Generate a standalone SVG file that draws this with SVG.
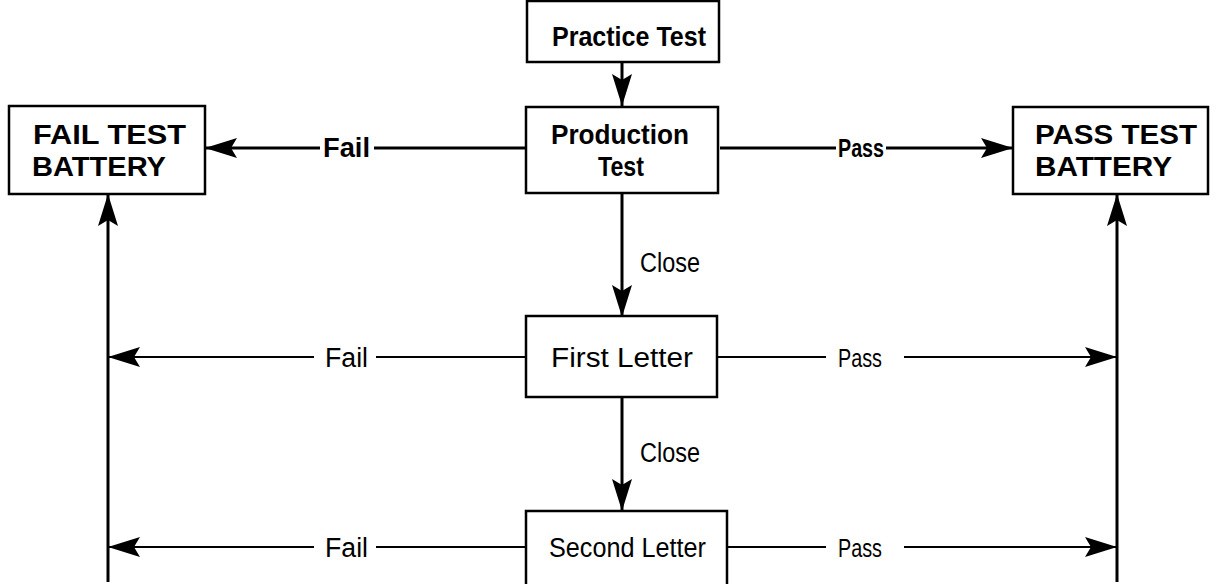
<svg xmlns="http://www.w3.org/2000/svg" width="1216" height="584" viewBox="0 0 1216 584">
<style>
.box{fill:#fff;stroke:#000;stroke-width:2.5}
.t{font-family:"Liberation Sans",Arial,sans-serif;font-size:27px;fill:#000}
.s{font-size:25px}
.b{font-weight:bold}
.ln{stroke:#000;stroke-width:3;fill:none}
.ln2{stroke:#000;stroke-width:2.2;fill:none}
</style>
<defs>
<marker id="ah" viewBox="0 0 32 20" refX="32" refY="10" markerWidth="32" markerHeight="20" markerUnits="userSpaceOnUse" orient="auto">
<path d="M0,0 L32,10 L0,20 L6,10 Z" fill="#000"/>
</marker>
</defs>
<g id="connectors">
<line class="ln" x1="622" y1="62" x2="622" y2="106" marker-end="url(#ah)"/>
<line class="ln" x1="527" y1="148" x2="374" y2="148"/>
<line class="ln" x1="320" y1="148" x2="205" y2="148" marker-end="url(#ah)"/>
<line class="ln" x1="720" y1="148" x2="836" y2="148"/>
<line class="ln" x1="886" y1="148" x2="1013" y2="148" marker-end="url(#ah)"/>
<line class="ln" x1="622" y1="193" x2="622" y2="317" marker-end="url(#ah)"/>
<line class="ln" x1="622" y1="397" x2="622" y2="511" marker-end="url(#ah)"/>
<line class="ln" x1="108" y1="582" x2="108" y2="194" marker-end="url(#ah)"/>
<line class="ln" x1="1117" y1="582" x2="1117" y2="194" marker-end="url(#ah)"/>
<line class="ln2" x1="527" y1="357" x2="376" y2="357"/>
<line class="ln2" x1="314" y1="357" x2="108" y2="357" marker-end="url(#ah)"/>
<line class="ln2" x1="716" y1="357" x2="826" y2="357"/>
<line class="ln2" x1="904" y1="357" x2="1117" y2="357" marker-end="url(#ah)"/>
<line class="ln2" x1="527" y1="547" x2="376" y2="547"/>
<line class="ln2" x1="314" y1="547" x2="108" y2="547" marker-end="url(#ah)"/>
<line class="ln2" x1="727" y1="547" x2="826" y2="547"/>
<line class="ln2" x1="904" y1="547" x2="1117" y2="547" marker-end="url(#ah)"/>
<text class="t b" x="323" y="157" textLength="47" lengthAdjust="spacingAndGlyphs">Fail</text>
<text class="t s b" x="838" y="157" textLength="46" lengthAdjust="spacingAndGlyphs">Pass</text>
<text class="t" x="325" y="367" textLength="43" lengthAdjust="spacingAndGlyphs">Fail</text>
<text class="t s" x="838" y="367" textLength="44" lengthAdjust="spacingAndGlyphs">Pass</text>
<text class="t" x="325" y="557" textLength="43" lengthAdjust="spacingAndGlyphs">Fail</text>
<text class="t s" x="838" y="557" textLength="44" lengthAdjust="spacingAndGlyphs">Pass</text>
<text class="t" x="640" y="272" textLength="60" lengthAdjust="spacingAndGlyphs">Close</text>
<text class="t" x="640" y="462" textLength="60" lengthAdjust="spacingAndGlyphs">Close</text>
</g>
<g id="practice"><rect class="box" x="527" y="1" width="192" height="61"/><text class="t b" x="552" y="46" textLength="154" lengthAdjust="spacingAndGlyphs">Practice Test</text></g>
<g id="production"><rect class="box" x="526" y="107" width="192" height="86"/><text class="t b" x="551" y="144" textLength="138" lengthAdjust="spacingAndGlyphs">Production</text><text class="t b" x="598" y="176" textLength="46" lengthAdjust="spacingAndGlyphs">Test</text></g>
<g id="failbattery"><rect class="box" x="9" y="106" width="196" height="88"/><text class="t b" x="33" y="144" textLength="153" lengthAdjust="spacingAndGlyphs">FAIL TEST</text><text class="t b" x="32" y="176" textLength="134" lengthAdjust="spacingAndGlyphs">BATTERY</text></g>
<g id="passbattery"><rect class="box" x="1013" y="107" width="195" height="87"/><text class="t b" x="1035" y="144" textLength="162" lengthAdjust="spacingAndGlyphs">PASS  TEST</text><text class="t b" x="1035" y="176" textLength="137" lengthAdjust="spacingAndGlyphs">BATTERY</text></g>
<g id="first"><rect class="box" x="526" y="316" width="191" height="81"/><text class="t" x="551" y="367" textLength="142" lengthAdjust="spacingAndGlyphs">First Letter</text></g>
<g id="second"><rect class="box" x="526" y="511" width="201" height="80"/><text class="t" x="549" y="557" textLength="157" lengthAdjust="spacingAndGlyphs">Second Letter</text></g>
</svg>
